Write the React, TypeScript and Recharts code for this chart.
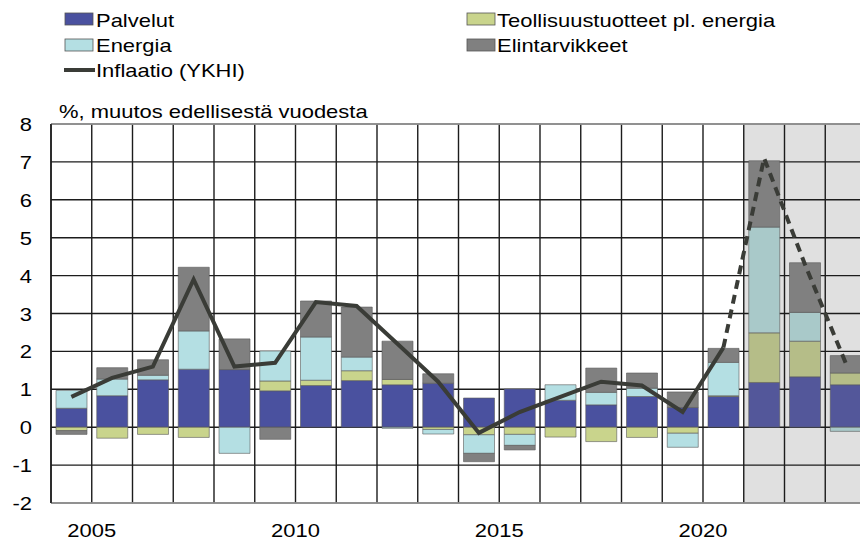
import {
  ComposedChart,
  Bar,
  Line,
  XAxis,
  YAxis,
  CartesianGrid,
  ReferenceArea,
  ReferenceLine,
  Cell,
} from "recharts"

const YEARS = [
  2005, 2006, 2007, 2008, 2009, 2010, 2011, 2012, 2013, 2014,
  2015, 2016, 2017, 2018, 2019, 2020, 2021, 2022, 2023, 2024,
]
const PALVELUT = [
  0.5, 0.83, 1.25, 1.53, 1.52, 0.96, 1.1, 1.23, 1.12, 1.16,
  0.77, 1.01, 0.71, 0.59, 0.81, 0.52, 0.81, 1.18, 1.33, 1.12,
]
const TEOLLISUUS = [
  -0.09, -0.29, -0.19, -0.27, 0, 0.26, 0.14, 0.26, 0.14, -0.06,
  -0.2, -0.19, -0.26, -0.38, -0.27, -0.16, 0.02, 1.31, 0.94, 0.31,
]
const ENERGIA = [
  0.47, 0.44, 0.12, 1.01, -0.69, 0.79, 1.14, 0.36, -0.03, -0.12,
  -0.49, -0.29, 0.41, 0.33, 0.22, -0.37, 0.88, 2.79, 0.76, -0.11,
]
const ELINTARVIKKEET = [
  -0.1, 0.3, 0.41, 1.68, 0.81, -0.32, 0.95, 1.32, 1.01, 0.25,
  -0.22, -0.12, 0, 0.64, 0.4, 0.41, 0.37, 1.75, 1.31, 0.46,
]
const INFLAATIO = [
  0.8, 1.3, 1.6, 3.9, 1.6, 1.7, 3.3, 3.2, 2.2, 1.2,
  -0.15, 0.4, 0.8, 1.2, 1.1, 0.4, 2.1, 7.1, 4.3, 1.7,
]
const Y_TICKS = [-2, -1, 0, 1, 2, 3, 4, 5, 6, 7, 8]
const X_LABELS = [2005, 2010, 2015, 2020]
const LAST_ACTUAL = 2021
const FORECAST_FROM = 2022

const W = 868
const H = 546
const MARGIN = { top: 124, right: 2, bottom: 0, left: 0 }
const Y_AXIS_W = 51
const X_AXIS_H = 43
const BAND = (W - MARGIN.left - MARGIN.right - Y_AXIS_W) / YEARS.length
const FONT = "'Liberation Sans', Arial, sans-serif"
const STRETCH = 1.22

const COLORS = {
  palvelut: ["#4a519f", "#53579a"],
  teollisuus: ["#c9d48c", "#b5bd88"],
  energia: ["#b4dfe3", "#a9c9c9"],
  elintarvikkeet: ["#808080", "#808080"],
  line: "#3a3c37",
}

const data = YEARS.map((year, i) => ({
  year,
  Palvelut: PALVELUT[i],
  Teollisuus: TEOLLISUUS[i],
  Energia: ENERGIA[i],
  Elintarvikkeet: ELINTARVIKKEET[i],
  actual: year <= LAST_ACTUAL ? INFLAATIO[i] : null,
  forecast: year >= LAST_ACTUAL ? INFLAATIO[i] : null,
}))

const StretchText = ({
  x,
  y,
  anchor = "start",
  size = 18,
  children,
}: {
  x: number
  y: number
  anchor?: "start" | "middle" | "end"
  size?: number
  children: React.ReactNode
}) => (
  <text
    transform={`translate(${x} ${y}) scale(${STRETCH} 1)`}
    textAnchor={anchor}
    fontFamily={FONT}
    fontSize={size}
    fill="#000"
  >
    {children}
  </text>
)

const YTick = ({ x, y, payload }: { x: number; y: number; payload: { value: number } }) => (
  <StretchText x={x - 11} y={y + 7} anchor="end" size={18}>
    {payload.value}
  </StretchText>
)

const XTick = ({ x, y, payload }: { x: number; y: number; payload: { value: number } }) => {
  if (!X_LABELS.includes(payload.value)) return null
  return (
    <StretchText x={x + BAND / 2} y={y + 26} anchor="middle" size={18}>
      {payload.value}
    </StretchText>
  )
}

const LegendBox = ({ x, y, fill }: { x: number; y: number; fill: string }) => (
  <rect x={x} y={y} width={28} height={12} fill={fill} stroke="#555" strokeWidth={0.8} />
)

const Header = () => (
  <svg width={860} height={124} style={{ position: "absolute", left: 0, top: 0 }}>
    <LegendBox x={65} y={13} fill={COLORS.palvelut[0]} />
    <StretchText x={96} y={27}>Palvelut</StretchText>
    <LegendBox x={65} y={39} fill={COLORS.energia[0]} />
    <StretchText x={96} y={52}>Energia</StretchText>
    <line x1={64} y1={70} x2={95} y2={70} stroke={COLORS.line} strokeWidth={4} />
    <StretchText x={96} y={77}>Inflaatio (YKHI)</StretchText>
    <LegendBox x={467} y={13} fill={COLORS.teollisuus[0]} />
    <StretchText x={497} y={27}>Teollisuustuotteet pl. energia</StretchText>
    <LegendBox x={467} y={39} fill={COLORS.elintarvikkeet[0]} />
    <StretchText x={497} y={52}>Elintarvikkeet</StretchText>
    <StretchText x={59} y={118}>%, muutos edellisestä vuodesta</StretchText>
  </svg>
)

const stackBar = (key: keyof typeof COLORS, name: string) => (
  <Bar
    dataKey={name}
    stackId="a"
    barSize={31}
    stroke="#5a5a5a"
    strokeOpacity={0.6}
    strokeWidth={1}
    isAnimationActive={false}
  >
    {data.map((d) => (
      <Cell key={d.year} fill={COLORS[key][d.year >= FORECAST_FROM ? 1 : 0]} />
    ))}
  </Bar>
)

export default function App() {
  return (
    <div
      style={{
        position: "absolute",
        left: 0,
        top: 0,
        width: 860,
        height: 546,
        overflow: "hidden",
        background: "#fff",
      }}
    >
      <ComposedChart width={W} height={H} data={data} margin={MARGIN} stackOffset="sign">
        <ReferenceArea
          x1={FORECAST_FROM}
          x2={YEARS[YEARS.length - 1]}
          fill="#e0e0e0"
          fillOpacity={1}
          stroke="none"
          zIndex={-150}
        />
        <CartesianGrid
          stroke="#1c1c1c"
          strokeWidth={1.4}
          verticalCoordinatesGenerator={({ offset }: { offset: { left: number; width: number } }) =>
            YEARS.map((_, i) => offset.left + (i * offset.width) / YEARS.length)
          }
        />
        <XAxis
          dataKey="year"
          interval={0}
          height={X_AXIS_H}
          tickLine={false}
          axisLine={{ stroke: "#a6a6a6", strokeWidth: 1.5 }}
          tick={XTick}
        />
        <YAxis
          width={Y_AXIS_W}
          domain={[-2, 8]}
          ticks={Y_TICKS}
          interval={0}
          tickLine={false}
          axisLine={{ stroke: "#1c1c1c", strokeWidth: 1.5 }}
          tick={YTick}
        />
        <ReferenceLine y={8} stroke="#a6a6a6" strokeWidth={1.5} />
        {stackBar("palvelut", "Palvelut")}
        {stackBar("teollisuus", "Teollisuus")}
        {stackBar("energia", "Energia")}
        {stackBar("elintarvikkeet", "Elintarvikkeet")}
        <Line
          dataKey="actual"
          stroke={COLORS.line}
          strokeWidth={4}
          dot={false}
          isAnimationActive={false}
        />
        <Line
          dataKey="forecast"
          stroke={COLORS.line}
          strokeWidth={4}
          strokeDasharray="9 6"
          dot={false}
          isAnimationActive={false}
        />
      </ComposedChart>
      <Header />
    </div>
  )
}
